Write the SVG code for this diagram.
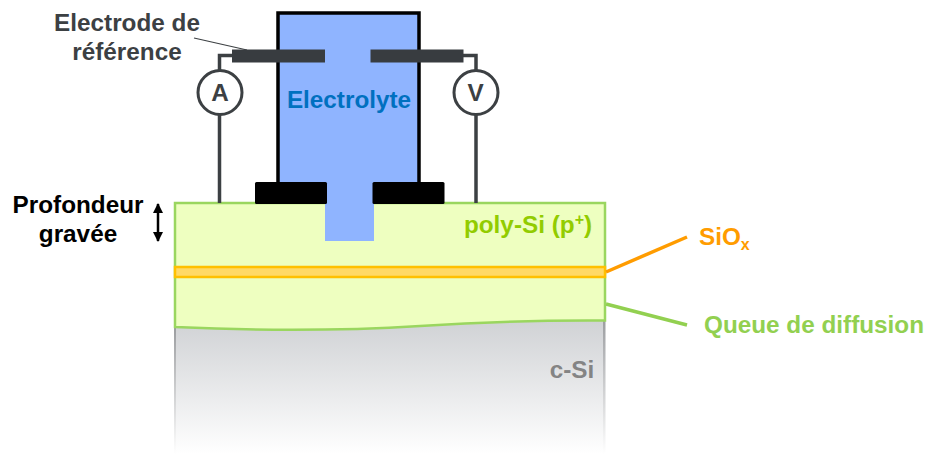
<svg xmlns="http://www.w3.org/2000/svg" width="926" height="454" viewBox="0 0 926 454">
<style>
text{font-family:"Liberation Sans",Arial,sans-serif;font-weight:700;font-size:24.3px}
.m{text-anchor:middle}
.s{font-size:16px}
.wire{fill:none;stroke:#3c4043;stroke-width:3.5}
.meter{fill:#fff;stroke:#3c4043;stroke-width:3}
.el{fill:#383c40}
.mask{fill:#000}
</style>
<defs>
<linearGradient id="g" x1="0" y1="0" x2="0" y2="1"><stop offset="0" stop-color="#cfd1d4"/><stop offset="1" stop-color="#fff"/></linearGradient>
<linearGradient id="ge" x1="0" y1="0" x2="0" y2="1"><stop offset="0" stop-color="#9a9c9f"/><stop offset="1" stop-color="#fff"/></linearGradient>
<marker id="ah" viewBox="0 0 10 10" refX="9" refY="5" markerWidth="4" markerHeight="4" orient="auto-start-reverse"><path d="M0 0L10 5L0 10z" fill="#000"/></marker>
</defs>
<g id="c-si">
<rect x="175" y="318" width="430" height="136" fill="url(#g)"/>
<rect x="174" y="326" width="2" height="128" fill="url(#ge)"/>
<rect x="603" y="318" width="2.500" height="136" fill="url(#ge)"/>
<text class="m" x="572" y="378" fill="#848484">c-Si</text>
</g>
<g id="poly-si">
<path d="M175 203H605V320.500C530 320 480 322 420 326C340 331 260 331 175 327Z" fill="#eeffc0" stroke="#9ad65f" stroke-width="2.500"/>
<text class="m" x="528" y="233" fill="#92cc00">poly-Si (p<tspan class="s" dy="-8">+</tspan><tspan dy="8">)</tspan></text>
</g>
<g id="oxide">
<rect x="175" y="267" width="430" height="10" fill="#ffd966" stroke="#ffc000" stroke-width="2.500"/>
</g>
<g id="electrolyte">
<rect x="278" y="13" width="141" height="172" fill="#8fb4ff" stroke="#000" stroke-width="3.500"/>
<rect x="325" y="183" width="49" height="58" fill="#8fb4ff"/>
<text class="m" x="349" y="108" fill="#0070c0">Electrolyte</text>
</g>
<g id="masks">
<rect class="mask" x="255" y="182" width="72" height="22" rx="1.500"/>
<rect class="mask" x="372.500" y="182" width="72" height="22" rx="1.500"/>
</g>
<g id="connectors">
<path class="wire" d="M232 55.500H219.500V70M219.500 115V203"/>
<path class="wire" d="M463 55.500H476V70M476 115V203"/>
<path d="M194 38L247 50" fill="none" stroke="#3c4043" stroke-width="1.200"/>
<path d="M158 204V241" fill="none" stroke="#000" stroke-width="2.500" marker-start="url(#ah)" marker-end="url(#ah)"/>
<path d="M606 272L687 237" fill="none" stroke="#ff9c00" stroke-width="3.500"/>
<path d="M606 304L687 325" fill="none" stroke="#92d050" stroke-width="3.500"/>
</g>
<g id="reference-electrode">
<rect class="el" x="232" y="49.500" width="93" height="13"/>
<rect class="el" x="370.500" y="49.500" width="93" height="13"/>
</g>
<g id="ammeter">
<circle class="meter" cx="220" cy="92.500" r="22"/>
<text class="m" x="220" y="101" fill="#3c4043">A</text>
</g>
<g id="voltmeter">
<circle class="meter" cx="476" cy="92.500" r="22"/>
<text class="m" x="475.500" y="101" fill="#3c4043">V</text>
</g>
<g id="labels">
<text class="m" x="127" y="31" fill="#3c4043">Electrode de</text>
<text class="m" x="127" y="60" fill="#3c4043">référence</text>
<text class="m" x="78" y="213" fill="#000">Profondeur</text>
<text class="m" x="78" y="242" fill="#000">gravée</text>
<text x="699" y="245" fill="#ff9c00">SiO<tspan class="s" dy="5">x</tspan></text>
<text x="704" y="333" fill="#92d050">Queue de diffusion</text>
</g>
</svg>
